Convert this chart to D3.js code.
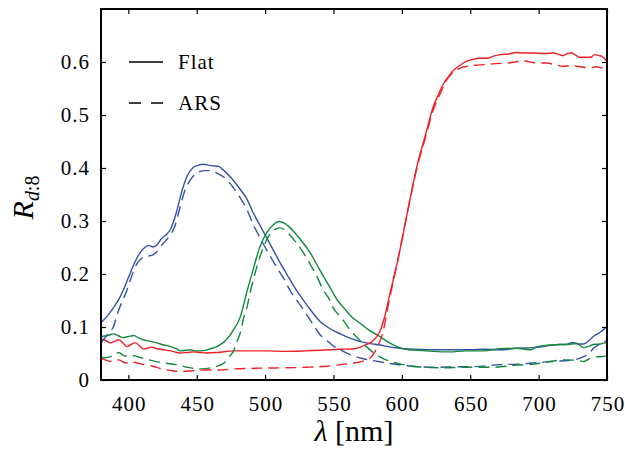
<!DOCTYPE html>
<html>
<head>
<meta charset="utf-8">
<script src="https://cdn.jsdelivr.net/npm/d3@7"></script>
<style>
  html, body { margin: 0; padding: 0; background: #fff; }
  svg { display: block; font-family: "Liberation Serif", "Times New Roman", serif; }
</style>
</head>
<body>
<div id="chart"></div>
<script>
// wavelength [nm], reflectance R_d:8
const blueFlat = [[380,0.108],[385,0.122],[389,0.136],[393,0.152],[396,0.168],[400,0.193],[404,0.218],[408,0.238],[412,0.25],[415,0.254],[418,0.251],[421,0.255],[424,0.266],[428,0.275],[431,0.285],[435,0.315],[439,0.355],[443,0.385],[447,0.4],[451,0.405],[455,0.407],[459,0.405],[462,0.404],[466,0.403],[470,0.395],[475,0.382],[482,0.359],[487,0.34],[491,0.317],[496,0.293],[501,0.269],[506,0.245],[511,0.221],[516,0.199],[521,0.177],[527,0.154],[533,0.133],[540,0.111],[545,0.101],[550,0.093],[555,0.087],[562,0.079],[569,0.073],[576,0.069],[584,0.066],[590,0.063],[598,0.06],[610,0.058],[625,0.057],[640,0.057],[650,0.057],[660,0.058],[672,0.057],[684,0.06],[696,0.061],[708,0.065],[715,0.067],[720,0.067],[725,0.071],[729,0.068],[733,0.068],[737,0.075],[740,0.082],[745,0.09],[750,0.101]]
const blueArs = [[380,0.07],[383,0.08],[386,0.09],[389,0.1],[392,0.125],[394,0.139],[397,0.157],[399,0.17],[403,0.2],[406,0.218],[409,0.228],[413,0.233],[417,0.235],[420,0.24],[423,0.25],[427,0.262],[431,0.275],[434,0.29],[437,0.318],[441,0.355],[446,0.38],[452,0.393],[456,0.395],[460,0.395],[465,0.39],[472,0.378],[477,0.362],[482,0.343],[487,0.32],[491,0.295],[496,0.27],[501,0.246],[505,0.228],[509,0.21],[514,0.19],[518,0.17],[523,0.151],[528,0.133],[535,0.105],[540,0.086],[545,0.075],[550,0.064],[555,0.057],[563,0.047],[572,0.04],[580,0.036],[589,0.032],[600,0.028],[612,0.025],[625,0.024],[640,0.025],[650,0.025],[672,0.029],[685,0.03],[696,0.032],[710,0.035],[725,0.038],[733,0.044],[737,0.05],[740,0.06],[745,0.068],[750,0.075]]
const greenFlat = [[380,0.082],[385,0.084],[389,0.087],[393,0.083],[396,0.08],[400,0.082],[404,0.084],[408,0.079],[411,0.076],[416,0.073],[421,0.07],[426,0.066],[431,0.063],[435,0.059],[438,0.055],[442,0.056],[445,0.057],[449,0.055],[452,0.055],[456,0.056],[460,0.059],[464,0.062],[469,0.07],[473,0.08],[477,0.095],[482,0.12],[486,0.16],[491,0.206],[496,0.25],[501,0.277],[506,0.293],[510,0.299],[514,0.296],[518,0.288],[523,0.274],[528,0.258],[533,0.24],[538,0.217],[543,0.194],[548,0.172],[553,0.15],[558,0.135],[563,0.12],[569,0.108],[576,0.094],[584,0.082],[591,0.07],[598,0.061],[605,0.057],[613,0.056],[623,0.054],[635,0.053],[647,0.055],[660,0.055],[672,0.059],[684,0.06],[690,0.058],[694,0.057],[699,0.063],[708,0.066],[715,0.067],[720,0.067],[728,0.069],[733,0.061],[737,0.064],[740,0.067],[745,0.068],[750,0.071]]
const greenArs = [[380,0.043],[383,0.042],[387,0.044],[390,0.049],[393,0.052],[396,0.047],[398,0.045],[401,0.046],[404,0.046],[408,0.043],[411,0.041],[418,0.036],[426,0.032],[435,0.029],[443,0.024],[452,0.021],[458,0.022],[462,0.024],[466,0.027],[470,0.032],[474,0.045],[477,0.055],[479,0.07],[482,0.09],[484,0.114],[487,0.14],[489,0.164],[494,0.214],[499,0.252],[504,0.277],[508,0.285],[511,0.287],[514,0.284],[518,0.274],[523,0.258],[528,0.24],[533,0.218],[538,0.195],[542,0.172],[547,0.152],[550,0.135],[555,0.12],[562,0.095],[568,0.078],[574,0.063],[580,0.05],[586,0.041],[593,0.034],[601,0.029],[611,0.025],[618,0.024],[630,0.023],[647,0.024],[660,0.024],[672,0.025],[684,0.028],[696,0.03],[708,0.035],[720,0.038],[728,0.037],[733,0.035],[737,0.04],[740,0.043],[745,0.044],[750,0.045]]
const redFlat = [[380,0.078],[383,0.075],[387,0.07],[390,0.073],[393,0.076],[396,0.07],[399,0.063],[402,0.067],[405,0.07],[408,0.065],[411,0.059],[414,0.06],[417,0.062],[421,0.059],[426,0.057],[431,0.055],[438,0.051],[443,0.052],[448,0.053],[452,0.052],[457,0.051],[465,0.052],[477,0.055],[490,0.055],[501,0.055],[515,0.054],[530,0.055],[540,0.056],[555,0.058],[565,0.059],[570,0.062],[574,0.067],[578,0.072],[581,0.08],[584,0.092],[588,0.125],[591,0.16],[594,0.192],[598,0.238],[602,0.29],[606,0.342],[611,0.403],[617,0.46],[623,0.516],[627,0.54],[630,0.557],[634,0.572],[638,0.585],[642,0.593],[647,0.601],[652,0.605],[657,0.607],[662,0.607],[667,0.611],[672,0.614],[678,0.615],[684,0.618],[690,0.617],[696,0.617],[703,0.616],[711,0.617],[715,0.614],[718,0.612],[721,0.616],[724,0.617],[727,0.613],[730,0.609],[734,0.609],[738,0.609],[741,0.614],[744,0.612],[746,0.611],[748,0.607],[750,0.601]]
const redArs = [[380,0.041],[383,0.038],[387,0.035],[390,0.037],[393,0.038],[396,0.034],[399,0.032],[402,0.034],[405,0.033],[411,0.029],[418,0.026],[423,0.022],[428,0.019],[433,0.017],[438,0.016],[447,0.0175],[457,0.019],[467,0.019],[477,0.021],[490,0.022],[501,0.0225],[515,0.023],[530,0.024],[545,0.026],[555,0.029],[565,0.032],[572,0.036],[577,0.042],[580,0.052],[582,0.063],[585,0.08],[587,0.1],[590,0.14],[594,0.19],[598,0.238],[602,0.29],[606,0.34],[611,0.4],[617,0.455],[623,0.51],[628,0.54],[633,0.567],[636,0.577],[640,0.585],[644,0.59],[648,0.592],[654,0.594],[660,0.595],[668,0.597],[677,0.598],[683,0.6],[688,0.603],[692,0.601],[696,0.599],[701,0.598],[706,0.598],[712,0.595],[718,0.592],[723,0.593],[728,0.592],[733,0.59],[738,0.589],[742,0.591],[746,0.589],[748,0.588]]

const xTicks = [400, 450, 500, 550, 600, 650, 700, 750]
const yTicks = [0, 0.1, 0.2, 0.3, 0.4, 0.5, 0.6]
const legendLabels = ["Flat", "ARS"]

const width = 625, height = 449
const margin = { top: 9, right: 18, bottom: 69, left: 101 }

let svg = d3.select("#chart").append("svg")
    .attr("width", width)
    .attr("height", height)

let x = d3.scaleLinear().domain([380, 750]).range([margin.left, width - margin.right])
let y = d3.scaleLinear().domain([0, 0.7]).range([height - margin.bottom, margin.top])

//曲线
let series = [
    { data: blueFlat, color: "#3552a8", dash: null },
    { data: greenFlat, color: "#13893c", dash: null },
    { data: redFlat, color: "#ee2028", dash: null },
    { data: blueArs, color: "#3552a8", dash: "11,6" },
    { data: greenArs, color: "#13893c", dash: "11,6" },
    { data: redArs, color: "#ee2028", dash: "11,6" }
]
let line = d3.line()
    .x((d) => x(d[0]))
    .y((d) => y(d[1]))
    .curve(d3.curveMonotoneX)

svg.append("clipPath").attr("id", "clip")
    .append("rect")
    .attr("x", margin.left).attr("y", margin.top)
    .attr("width", width - margin.left - margin.right)
    .attr("height", height - margin.top - margin.bottom)

svg.append("g")
    .attr("clip-path", "url(#clip)")
    .selectAll("path")
    .data(series)
    .enter()
    .append("path")
    .attr("fill", "none")
    .attr("stroke", (d) => d.color)
    .attr("stroke-width", 1.4)
    .attr("stroke-dasharray", (d) => d.dash)
    .attr("d", (d) => line(d.data))

//坐标轴, 刻度朝内, 四边都有
let tickLen = 5
let axBottom = svg.append("g")
    .attr("transform", `translate(0,${height - margin.bottom})`)
    .call(d3.axisBottom(x).tickValues(xTicks).tickSize(-tickLen).tickPadding(tickLen + 11))
let axTop = svg.append("g")
    .attr("transform", `translate(0,${margin.top})`)
    .call(d3.axisTop(x).tickValues(xTicks).tickSize(-tickLen).tickFormat(""))
let axLeft = svg.append("g")
    .attr("transform", `translate(${margin.left},0)`)
    .call(d3.axisLeft(y).tickValues(yTicks).tickSize(-tickLen).tickPadding(tickLen + 6)
        .tickFormat((d) => d === 0 ? "0" : d3.format(".1f")(d)))
let axRight = svg.append("g")
    .attr("transform", `translate(${width - margin.right},0)`)
    .call(d3.axisRight(y).tickValues(yTicks).tickSize(-tickLen).tickFormat(""))

;[axBottom, axTop, axLeft, axRight].forEach((g) => {
    g.select(".domain").remove()
    g.selectAll("line").attr("stroke", "#000").attr("stroke-width", 1.2)
    g.selectAll("text").attr("font-size", 21).attr("fill", "#000")
        .attr("font-family", "Liberation Serif, serif")
        .attr("letter-spacing", 1)
})
axBottom.selectAll("text").attr("dx", 0.5)

// frame
svg.append("rect")
    .attr("x", margin.left).attr("y", margin.top)
    .attr("width", width - margin.left - margin.right)
    .attr("height", height - margin.top - margin.bottom)
    .attr("fill", "none")
    .attr("stroke", "#000")
    .attr("stroke-width", 2)

// axis labels
svg.append("text")
    .attr("x", (margin.left + width - margin.right) / 2)
    .attr("y", 441)
    .attr("text-anchor", "middle")
    .attr("font-size", 30)
    .html('<tspan font-style="italic">λ</tspan> [nm]')

let yl = svg.append("text")
    .attr("transform", `translate(33,${(margin.top + height - margin.bottom) / 2 + 3}) rotate(-90)`)
    .attr("text-anchor", "middle")
    .attr("font-size", 30)
yl.append("tspan").attr("font-style", "italic").text("R")
yl.append("tspan").attr("font-size", 20).attr("dy", 6).attr("font-style", "italic").text("d")
yl.append("tspan").attr("font-size", 20).text(":8")

// legend
let legend = svg.append("g")
legendLabels.forEach((name, i) => {
    let ly = 62 + i * 41
    legend.append("line")
        .attr("x1", 129).attr("x2", 163)
        .attr("y1", ly).attr("y2", ly)
        .attr("stroke", "#000")
        .attr("stroke-width", 1.5)
        .attr("stroke-dasharray", i === 0 ? null : "12,10")
    legend.append("text")
        .attr("x", 178).attr("y", ly + 7)
        .attr("font-size", 21)
        .attr("letter-spacing", 1)
        .text(name)
})
</script>
</body>
</html>
